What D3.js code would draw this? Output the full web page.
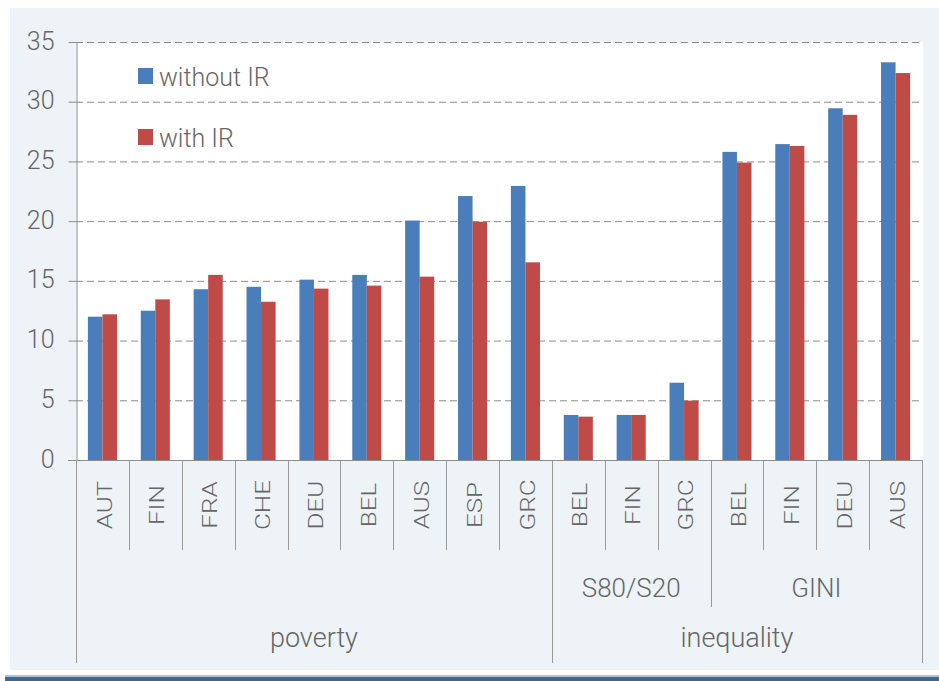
<!DOCTYPE html>
<html>
<head>
<meta charset="utf-8">
<script src="https://cdn.jsdelivr.net/npm/d3@7"></script>
<style>
  body { margin: 0; background: #ffffff; }
  text { font-family: Roboto, "Open Sans", sans-serif; font-weight: 300; fill: #666666; }
</style>
</head>
<body>
<svg id="chart" width="939" height="681"></svg>
<script>
// Country codes along the x axis (left to right)
const countries = ["AUT", "FIN", "FRA", "CHE", "DEU", "BEL", "AUS", "ESP", "GRC",
                   "BEL", "FIN", "GRC", "BEL", "FIN", "DEU", "AUS"];
// Second level of the axis: indicator for each bar pair
const indicators = ["", "", "", "", "", "", "", "", "",
                    "S80/S20", "S80/S20", "S80/S20", "GINI", "GINI", "GINI", "GINI"];
// Third level of the axis: domain for each bar pair
const domains = ["poverty", "poverty", "poverty", "poverty", "poverty", "poverty", "poverty", "poverty", "poverty",
                 "inequality", "inequality", "inequality", "inequality", "inequality", "inequality", "inequality"];
// Series values
const withoutIR = [12.0, 12.5, 14.3, 14.5, 15.1, 15.5, 20.05, 22.1, 22.95, 3.77, 3.77, 6.47, 25.8, 26.45, 29.45, 33.3];
const withIR    = [12.2, 13.45, 15.5, 13.25, 14.35, 14.6, 15.35, 19.95, 16.55, 3.63, 3.77, 4.97, 24.9, 26.3, 28.9, 32.4];
const seriesNames = ["without IR", "with IR"];
const seriesColors = ["#4a7ebb", "#be4b48"];
const yTicks = [0, 5, 10, 15, 20, 25, 30, 35];

const svg = d3.select("#chart");
const plot = { left: 76, right: 922, top: 42, bottom: 460 };

// Background panel and bottom rule
svg.append("rect").attr("x", 10).attr("y", 8).attr("width", 929).attr("height", 662).attr("fill", "#edf3f6");
svg.append("rect").attr("x", 5).attr("y", 675).attr("width", 934).attr("height", 2).attr("fill", "#a9c4dc");
svg.append("rect").attr("x", 5).attr("y", 677).attr("width", 934).attr("height", 4).attr("fill", "#3c6894");

const y = d3.scaleLinear().domain([0, 35]).range([plot.bottom, plot.top]);
const idx = d3.range(countries.length);
const pad = 0.45;
const x = d3.scaleBand().domain(idx).range([plot.left, plot.right]).paddingInner(pad).paddingOuter(pad / 2);
const xs = d3.scaleBand().domain([0, 1]).range([0, x.bandwidth()]);

// White plotting area
svg.append("rect").attr("x", plot.left).attr("y", plot.top)
  .attr("width", plot.right - plot.left + 1).attr("height", plot.bottom - plot.top)
  .attr("fill", "#ffffff");

// Dashed gridlines
svg.append("g").selectAll("line").data(yTicks.filter(d => d > 0)).join("line")
  .attr("x1", plot.left).attr("x2", plot.right)
  .attr("y1", d => y(d) + 0.5).attr("y2", d => y(d) + 0.5)
  .attr("stroke", "#8c8c8c").attr("stroke-width", 1).attr("stroke-dasharray", "7,4");

// Bars
const series = [withoutIR, withIR];
series.forEach((vals, s) => {
  svg.append("g").selectAll("rect").data(idx).join("rect")
    .attr("x", i => x(i) + xs(s))
    .attr("width", xs.bandwidth())
    .attr("y", i => y(vals[i]))
    .attr("height", i => y(0) - y(vals[i]))
    .attr("fill", seriesColors[s]);
});

// Y axis
const yAxis = d3.axisLeft(y).tickValues(yTicks).tickSize(8).tickSizeOuter(0).tickPadding(14);
const gy = svg.append("g").attr("transform", `translate(${plot.left + 0.5},0)`).call(yAxis);
gy.select(".domain").attr("stroke", "#8c8c8c");
gy.selectAll(".tick line").attr("stroke", "#8c8c8c");
gy.selectAll(".tick text").attr("font-size", 25).attr("dy", "0.28em")
  .style("font-family", "Roboto, sans-serif").attr("fill", "#666666");

// Baseline
svg.append("line").attr("x1", plot.left - 8).attr("x2", plot.right)
  .attr("y1", y(0) + 0.5).attr("y2", y(0) + 0.5).attr("stroke", "#8c8c8c");

// Multi-level category axis: separators
const step = x.step();
const boundary = i => plot.left + i * step;
const sepLen = d3.range(countries.length + 1).map(i => {
  if (i === 0 || i === countries.length || domains[i] !== domains[i - 1]) return 663;
  if (indicators[i] !== indicators[i - 1]) return 607;
  return 550;
});
svg.append("g").selectAll("line").data(sepLen).join("line")
  .attr("x1", (d, i) => Math.round(boundary(i)) + 0.5).attr("x2", (d, i) => Math.round(boundary(i)) + 0.5)
  .attr("y1", plot.bottom).attr("y2", d => d)
  .attr("stroke", "#9a9a9a").attr("stroke-width", 1);

// Country labels (rotated)
svg.append("g").selectAll("text").data(idx).join("text")
  .attr("transform", i => `translate(${x(i) + x.bandwidth() / 2 + 2},505) rotate(-90) scale(1.3,1)`)
  .attr("text-anchor", "middle").attr("dy", "0.355em")
  .attr("font-size", 20)
  .text(i => countries[i]);

// Indicator and domain labels, centred over their spans
function spans(keys) {
  const out = [];
  keys.forEach((k, i) => {
    if (i === 0 || k !== keys[i - 1]) out.push({ key: k, start: i, end: i + 1 });
    else out[out.length - 1].end = i + 1;
  });
  return out;
}
svg.append("g").selectAll("text").data(spans(indicators).filter(d => d.key)).join("text")
  .attr("x", d => (boundary(d.start) + boundary(d.end)) / 2)
  .attr("y", 597).attr("text-anchor", "middle").attr("font-size", 26)
  .text(d => d.key);
svg.append("g").selectAll("text").data(spans(domains)).join("text")
  .attr("x", d => (boundary(d.start) + boundary(d.end)) / 2)
  .attr("y", 647).attr("text-anchor", "middle").attr("font-size", 27)
  .text(d => d.key);

// Legend
const legend = svg.append("g");
seriesNames.forEach((name, s) => {
  const ly = 68 + s * 61;
  legend.append("rect").attr("x", 138).attr("y", ly).attr("width", 15).attr("height", 16).attr("fill", seriesColors[s]);
  legend.append("text").attr("x", 159).attr("y", ly + 18).attr("font-size", 25).text(name);
});
</script>
</body>
</html>
